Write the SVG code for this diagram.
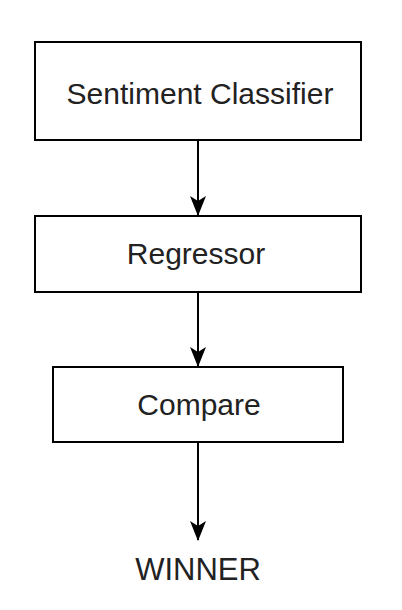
<svg xmlns="http://www.w3.org/2000/svg" width="402" height="610" viewBox="0 0 402 610">
<style>
.box{fill:#fff;stroke:#000;stroke-width:2}
.lbl{font-family:"Liberation Sans",Arial,sans-serif;font-size:30px;fill:#222;text-anchor:middle}
.big{font-size:31px}
.edge{stroke:#000;stroke-width:2;fill:none}
</style>
<defs>
<marker id="ah" viewBox="0 0 20 16" refX="19" refY="8" markerWidth="20" markerHeight="16" markerUnits="userSpaceOnUse" orient="auto">
<path d="M0,0 L20,8 L0,16 L5,8 Z" fill="#000"/>
</marker>
</defs>
<rect width="402" height="610" fill="#fff"/>
<g id="connectors">
<line class="edge" x1="198" y1="140" x2="198" y2="215" marker-end="url(#ah)"/>
<line class="edge" x1="198" y1="292" x2="198" y2="366" marker-end="url(#ah)"/>
<line class="edge" x1="198" y1="442" x2="198" y2="540" marker-end="url(#ah)"/>
</g>
<g id="n1">
<rect class="box" x="35" y="42" width="326" height="98"/>
<text class="lbl" x="200" y="104">Sentiment Classifier</text>
</g>
<g id="n2">
<rect class="box" x="35" y="216" width="326" height="76"/>
<text class="lbl" x="196" y="264">Regressor</text>
</g>
<g id="n3">
<rect class="box" x="53" y="367" width="290" height="75"/>
<text class="lbl" x="199" y="415">Compare</text>
</g>
<g id="n4">
<text class="lbl big" x="198" y="580">WINNER</text>
</g>
</svg>
